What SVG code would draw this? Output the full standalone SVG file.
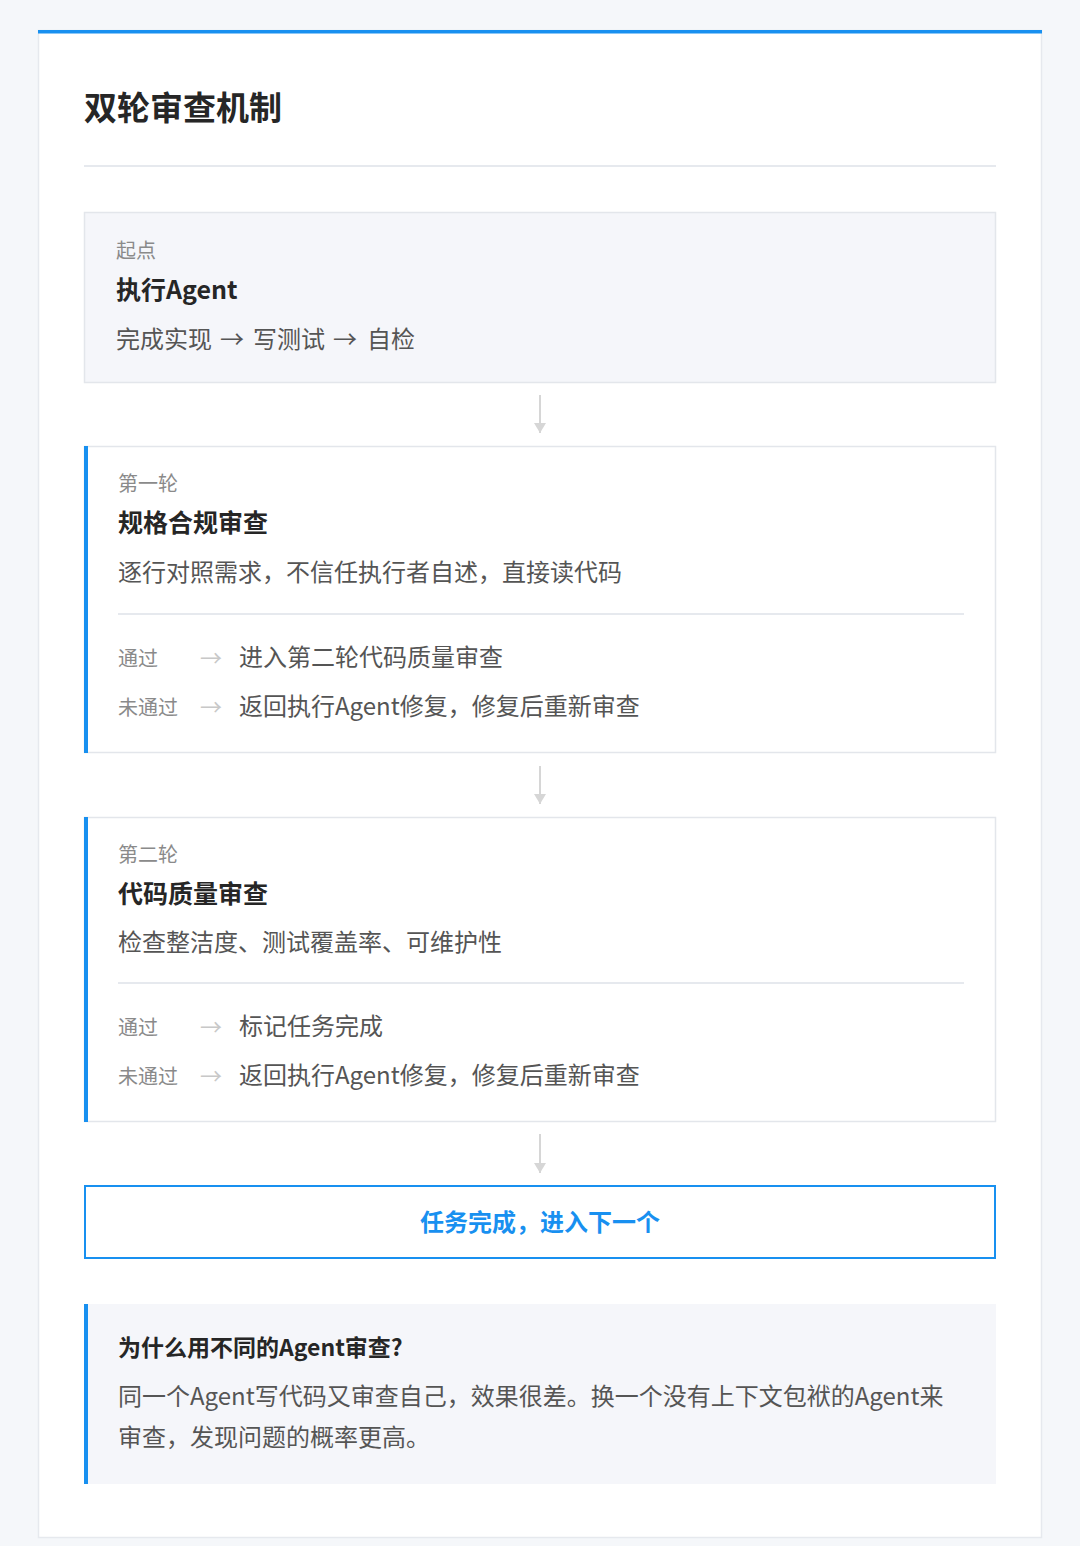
<svg xmlns="http://www.w3.org/2000/svg" width="1080" height="1546" viewBox="0 0 1080 1546">
<defs>
<style>
text{font-family:"Noto Sans CJK SC","Noto Sans",sans-serif;}
.title{font-size:33px;font-weight:700;fill:#262626;}
.lbl{font-size:20px;fill:#8a8a8a;}
.h{font-size:25px;font-weight:700;fill:#262626;}
.body{font-size:24px;fill:#555;}
.sarrow{font-size:22px;fill:#c8c8c8;}
.rule{stroke:#e6e9ee;stroke-width:2;}
.conn{stroke:#d6d6d6;stroke-width:2;fill:none;}
.blue{fill:#1890f0;}
</style>
<marker id="ah" viewBox="0 0 10 12" refX="10" refY="6" markerWidth="10" markerHeight="12" markerUnits="userSpaceOnUse" orient="auto">
<path d="M0,0 L10,6 L0,12 Z" fill="#d6d6d6"/>
</marker>
</defs>
<rect x="0" y="0" width="1080" height="1546" fill="#f5f7fa"/>
<g id="card">
<rect x="38.5" y="30.5" width="1003" height="1507" fill="#ffffff" stroke="#e6e9ee" stroke-width="1.5"/>
<rect x="38" y="30" width="1004" height="3.5" class="blue"/>
<text x="84" y="120" class="title">双轮审查机制</text>
<line x1="84" y1="166" x2="996" y2="166" class="rule"/>
</g>
<g id="start">
<rect x="84.5" y="212.5" width="911" height="170" fill="#f5f6fa" stroke="#e3e6eb" stroke-width="1.5"/>
<text x="116" y="258" class="lbl">起点</text>
<text x="116" y="299" class="h">执行Agent</text>
<text x="116" y="348" class="body">完成实现</text>
<text x="220" y="348" class="body">→</text>
<text x="253" y="348" class="body">写测试</text>
<text x="333" y="348" class="body">→</text>
<text x="367" y="348" class="body">自检</text>
</g>
<g id="round1">
<rect x="84.5" y="446.5" width="911" height="306" fill="#ffffff" stroke="#e3e6eb" stroke-width="1.5"/>
<rect x="84" y="446" width="4" height="307" class="blue"/>
<text x="118" y="491" class="lbl">第一轮</text>
<text x="118" y="532" class="h">规格合规审查</text>
<text x="118" y="581" class="body">逐行对照需求，不信任执行者自述，直接读代码</text>
<line x1="118" y1="614" x2="964" y2="614" class="rule"/>
<text x="118" y="666" class="lbl">通过</text>
<text x="200" y="666" class="sarrow">→</text>
<text x="239" y="666" class="body">进入第二轮代码质量审查</text>
<text x="118" y="715" class="lbl">未通过</text>
<text x="200" y="715" class="sarrow">→</text>
<text x="239" y="715" class="body">返回执行Agent修复，修复后重新审查</text>
</g>
<g id="round2">
<rect x="84.5" y="817.5" width="911" height="304" fill="#ffffff" stroke="#e3e6eb" stroke-width="1.5"/>
<rect x="84" y="817" width="4" height="305" class="blue"/>
<text x="118" y="862" class="lbl">第二轮</text>
<text x="118" y="903" class="h">代码质量审查</text>
<text x="118" y="951" class="body">检查整洁度、测试覆盖率、可维护性</text>
<line x1="118" y1="983" x2="964" y2="983" class="rule"/>
<text x="118" y="1035" class="lbl">通过</text>
<text x="200" y="1035" class="sarrow">→</text>
<text x="239" y="1035" class="body">标记任务完成</text>
<text x="118" y="1084" class="lbl">未通过</text>
<text x="200" y="1084" class="sarrow">→</text>
<text x="239" y="1084" class="body">返回执行Agent修复，修复后重新审查</text>
</g>
<g id="done">
<rect x="85" y="1186" width="910" height="72" fill="#ffffff" stroke="#1890f0" stroke-width="2"/>
<text x="540" y="1231" text-anchor="middle" style="font-size:24px;font-weight:700;fill:#1890f0;">任务完成，进入下一个</text>
</g>
<g id="note">
<rect x="84" y="1304" width="912" height="180" fill="#f5f6fa"/>
<rect x="84" y="1304" width="4" height="180" class="blue"/>
<text x="118" y="1356" style="font-size:23px;font-weight:700;fill:#262626;">为什么用不同的Agent审查?</text>
<text x="118" y="1405" class="body">同一个Agent写代码又审查自己，效果很差。换一个没有上下文包袱的Agent来</text>
<text x="118" y="1446" class="body">审查，发现问题的概率更高。</text>
</g>
<g id="connectors">
<line x1="540" y1="395" x2="540" y2="433" class="conn" marker-end="url(#ah)"/>
<line x1="540" y1="766" x2="540" y2="804" class="conn" marker-end="url(#ah)"/>
<line x1="540" y1="1134" x2="540" y2="1173" class="conn" marker-end="url(#ah)"/>
</g>
</svg>
